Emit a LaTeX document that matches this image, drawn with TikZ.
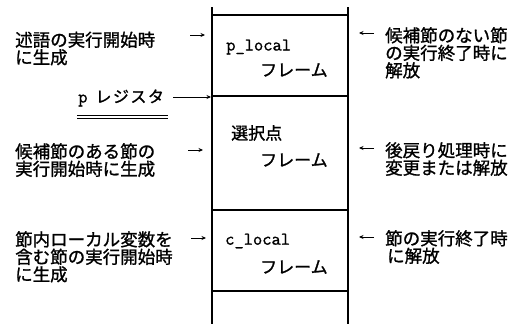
\documentclass[tikz,border=0pt]{standalone}
\usepackage{fontspec}
\newfontfamily\jp{Noto Sans CJK JP}[FakeBold=1.2]
\newfontfamily\mono{Latin Modern Mono}[FakeBold=1.2]
\usetikzlibrary{arrows.meta}
\begin{document}
\begin{tikzpicture}[x=1pt,y=-1pt,
  jtext/.style={font=\jp\fontsize{17.5}{17.5}\selectfont, align=left, inner sep=0pt, anchor=north west},
  ttl/.style={font=\mono\fontsize{18}{18}\selectfont, inner sep=0pt, anchor=west},
  frm/.style={font=\jp\fontsize{17}{17}\selectfont, inner sep=0pt, anchor=west},
  arr/.style={-{Stealth[length=4.5pt,width=4pt]}, line width=0.8pt},
  rulel/.style={line width=1.2pt},
  uline/.style={line width=0.8pt}]
\useasboundingbox (0,0) rectangle (520,324);
% stack outline
\coordinate (tl) at (212,7);   \coordinate (bl) at (212,324);
\coordinate (tr) at (348,7);   \coordinate (br) at (348,324);
\draw[rulel] (tl) -- (bl);
\draw[rulel] (tr) -- (br);
\foreach \yy/\nm in {15/h1,96/h2,210/h3,291/h4}{
  \coordinate (\nm l) at (212,\yy); \coordinate (\nm r) at (348,\yy);
  \draw[rulel] (\nm l) -- (\nm r);
}
% frame labels
\node[ttl] (pl) at (226,47) {p\_local};
\node[frm] (f1) at (260,70) {フレーム};
\node[frm] (sp) at (231,133) {選択点};
\node[frm] (f2) at (260,160) {フレーム};
\node[ttl] (cl) at (225,241) {c\_local};
\node[frm] (f3) at (260,267) {フレーム};
% left texts
\node[jtext] (L1) at (15,31.5) {述語の実行開始時\\に生成};
\node[jtext] (L2) at (15,143) {候補節のある節の\\実行開始時に生成};
\node[jtext] (L3) at (15,231) {節内ローカル変数を\\含む節の実行開始時\\に生成};
% p register
\node[font=\jp\fontsize{16}{16}\selectfont, inner sep=0pt, anchor=west] (preg) at (78,98) {{\mono\fontsize{18}{18}\selectfont p}\hspace{8pt}レ\hspace{1.5pt}ジ\hspace{1.5pt}ス\hspace{1.5pt}タ};
\coordinate (u1a) at (77,115); \coordinate (u1b) at (168,115);
\coordinate (u2a) at (77,118.5); \coordinate (u2b) at (168,118.5);
\draw[uline] (u1a) -- (u1b);
\draw[uline] (u2a) -- (u2b);
\coordinate (pe) at (211,97);
\coordinate (ps) at (173,97);
\draw[arr] (ps) -- (pe);
% right texts
\node[jtext] (R1) at (385,27) {候補節のない節\\の実行終了時に\\解放};
\node[jtext] (R2) at (385,142) {後戻り処理時に\\変更または解放};
\node[jtext] (R3) at (385,230) {節の実行終了時\\\hspace{2pt}に解放};
% small arrows
\coordinate (a1s) at (190,35);  \coordinate (a1e) at (205,35);
\coordinate (a2s) at (188,150); \coordinate (a2e) at (203,150);
\coordinate (a3s) at (191,238); \coordinate (a3e) at (206,238);
\draw[arr] (a1s) -- (a1e);
\draw[arr] (a2s) -- (a2e);
\draw[arr] (a3s) -- (a3e);
\coordinate (b1s) at (374,33);  \coordinate (b1e) at (359,33);
\coordinate (b2s) at (374,148); \coordinate (b2e) at (359,148);
\coordinate (b3s) at (374,237); \coordinate (b3e) at (359,237);
\draw[arr] (b1s) -- (b1e);
\draw[arr] (b2s) -- (b2e);
\draw[arr] (b3s) -- (b3e);
\end{tikzpicture}
\end{document}
